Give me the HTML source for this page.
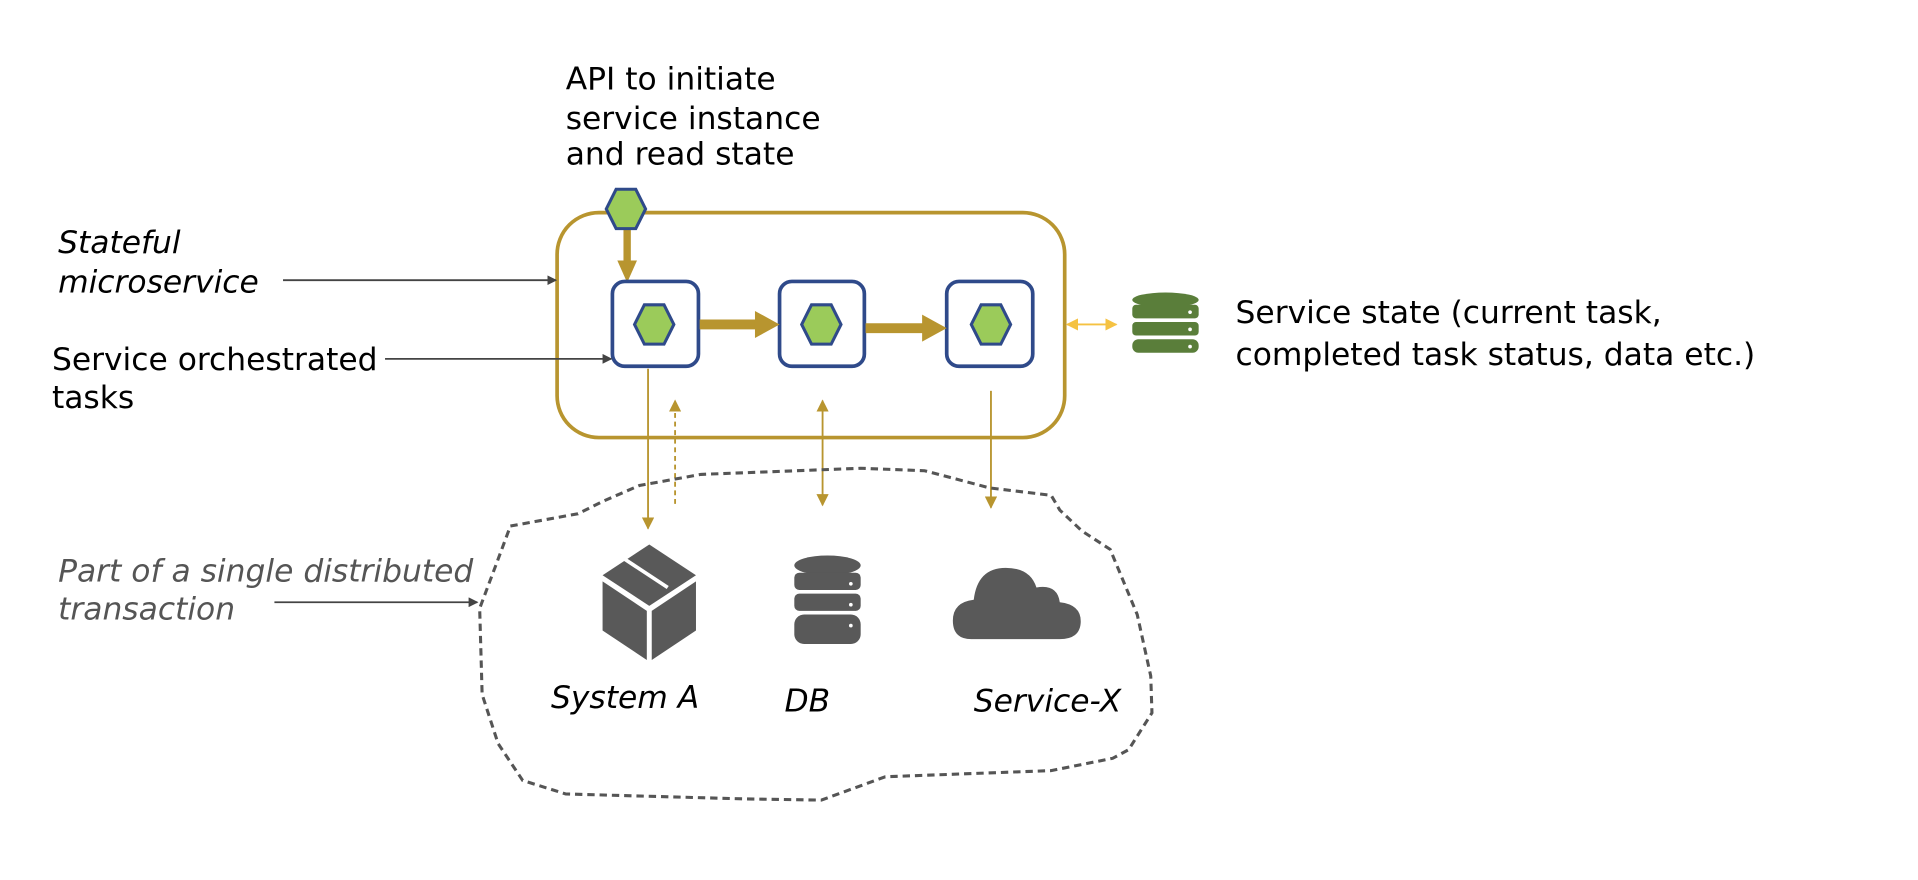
<!DOCTYPE html>
<html><head><meta charset="utf-8"><style>html,body{margin:0;padding:0;background:#fff}svg{display:block}text{font-family:"DejaVu Sans","Liberation Sans",sans-serif;font-size:25.5px;fill:#000}</style></head>
<body>
<svg width="1918" height="880" viewBox="0 0 1560 716" xmlns="http://www.w3.org/2000/svg">
<defs>
<marker id="ad" markerWidth="8" markerHeight="8" refX="7" refY="4" orient="auto" markerUnits="userSpaceOnUse" viewBox="0 0 8 8"><path d="M0,0 L8,4 L0,8z" fill="#444"/></marker>
<marker id="ag" markerWidth="10" markerHeight="10" refX="9" refY="5" orient="auto-start-reverse" markerUnits="userSpaceOnUse" viewBox="0 0 10 10"><path d="M0,0 L10,5 L0,10z" fill="#b8952f"/></marker>
<marker id="ay" markerWidth="10" markerHeight="10" refX="9" refY="5" orient="auto-start-reverse" markerUnits="userSpaceOnUse" viewBox="0 0 10 10"><path d="M0,0 L10,5 L0,10z" fill="#f5c242"/></marker>
<g id="hex"><polygon points="-8,-16 8,-16 16,0 8,16 -8,16 -16,0" fill="#9bcb5a" stroke="#2f4a8a" stroke-width="2.5"/></g>
</defs>
<text x="460" y="73">API to initiate</text>
<text x="460" y="105">service instance</text>
<text x="460" y="134">and read state</text>
<rect x="453" y="173" width="413" height="183" rx="34" fill="none" stroke="#b8952f" stroke-width="3"/>
<line x1="510" y1="187" x2="510" y2="214" stroke="#b8952f" stroke-width="6"/>
<polygon points="502,212 518,212 510,230" fill="#b8952f"/>
<use href="#hex" x="509" y="170"/>
<rect x="498" y="229" width="70" height="69" rx="10" fill="#fff" stroke="#2f4a8a" stroke-width="3"/>
<rect x="634" y="229" width="69" height="69" rx="10" fill="#fff" stroke="#2f4a8a" stroke-width="3"/>
<rect x="770" y="229" width="70" height="69" rx="10" fill="#fff" stroke="#2f4a8a" stroke-width="3"/>
<use href="#hex" x="532" y="264"/><use href="#hex" x="668" y="264"/><use href="#hex" x="806" y="264"/>
<line x1="569" y1="264" x2="616" y2="264" stroke="#b8952f" stroke-width="8"/><polygon points="614,253 634,264 614,275" fill="#b8952f"/>
<line x1="704" y1="267" x2="752" y2="267" stroke="#b8952f" stroke-width="8"/><polygon points="750,256 770,267 750,278" fill="#b8952f"/>
<line x1="868" y1="264" x2="908" y2="264" stroke="#f5c242" stroke-width="1.5" marker-start="url(#ay)" marker-end="url(#ay)"/>
<g fill="#5a7e3a"><ellipse cx="948" cy="244" rx="27" ry="6"/><rect x="921" y="248" width="54" height="11" rx="3"/><rect x="921" y="262" width="54" height="11" rx="3"/><rect x="921" y="276" width="54" height="11" rx="5"/></g>
<g fill="#fff"><circle cx="968" cy="254" r="1.5"/><circle cx="968" cy="268" r="1.5"/><circle cx="968" cy="282" r="1.5"/></g>
<text x="1005" y="263">Service state (current task,</text>
<text x="1005" y="297">completed task status, data etc.)</text>
<text x="47" y="206" font-style="italic">Stateful</text>
<text x="47" y="238" font-style="italic">microservice</text>
<line x1="230" y1="228" x2="452" y2="228" stroke="#444" stroke-width="1.5" marker-end="url(#ad)"/>
<text x="42" y="301">Service orchestrated</text>
<text x="42" y="332">tasks</text>
<line x1="313" y1="292" x2="497" y2="292" stroke="#444" stroke-width="1.5" marker-end="url(#ad)"/>
<line x1="527" y1="300" x2="527" y2="430" stroke="#b8952f" stroke-width="1.5" marker-end="url(#ag)"/>
<line x1="549" y1="410" x2="549" y2="326" stroke="#b8952f" stroke-width="1.5" stroke-dasharray="4,3" marker-end="url(#ag)"/>
<line x1="669" y1="326" x2="669" y2="411" stroke="#b8952f" stroke-width="1.5" marker-start="url(#ag)" marker-end="url(#ag)"/>
<line x1="806" y1="318" x2="806" y2="413" stroke="#b8952f" stroke-width="1.5" marker-end="url(#ag)"/>
<path d="M415,428 L470,418 L490,408 L520,395 L570,386 L700,381 L752,383 L805,397 L855,403 L862,415 L880,432 L903,447 L925,500 L936,550 L937,580 L918,610 L905,617 L855,627 L720,632 L668,651 L605,650 L460,646 L425,635 L405,605 L392,565 L390,495 L405,455 Z" fill="none" stroke="#555" stroke-width="2.5" stroke-dasharray="6,4"/>
<text x="47" y="473" font-style="italic" style="fill:#555">Part of a single distributed</text>
<text x="47" y="504" font-style="italic" style="fill:#555">transaction</text>
<line x1="223" y1="490" x2="388" y2="490" stroke="#444" stroke-width="1.5" marker-end="url(#ad)"/>
<g fill="#595959"><polygon points="528,443 566,468 528,493 490,468"/><polygon points="490,473 526,497 526,537 490,513"/><polygon points="530,497 566,473 566,513 530,537"/></g>
<line x1="505" y1="453" x2="543" y2="478" stroke="#fff" stroke-width="3"/>
<g fill="#595959"><ellipse cx="673" cy="460" rx="27" ry="8"/><rect x="646" y="466" width="54" height="14" rx="4"/><rect x="646" y="483" width="54" height="14" rx="4"/><rect x="646" y="500" width="54" height="24" rx="8"/></g>
<g fill="#fff"><circle cx="692" cy="475" r="1.5"/><circle cx="692" cy="492" r="1.5"/><circle cx="692" cy="509" r="1.5"/></g>
<path d="M790,520 Q775,520 775,505 Q775,490 792,488 Q795,462 818,462 Q838,462 843,478 Q860,475 862,490 Q880,492 879,507 Q878,520 862,520 Z" fill="#595959"/>
<text x="448" y="576" font-style="italic">System A</text>
<text x="638" y="579" font-style="italic">DB</text>
<text x="792" y="579" font-style="italic">Service-X</text>
</svg>
</body></html>
